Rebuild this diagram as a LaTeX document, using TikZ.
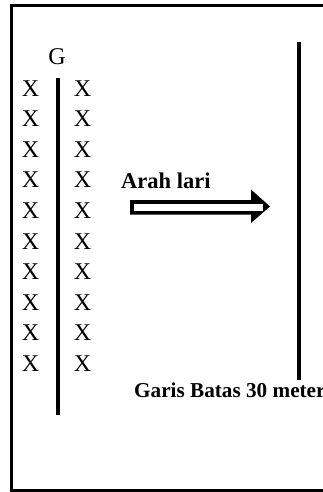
\documentclass[tikz,border=0pt]{standalone}
\usepackage{fontspec}
\setmainfont{Liberation Serif}
\begin{document}
\begin{tikzpicture}[x=1pt,y=-1pt,
  lbl/.style={inner sep=0pt,anchor=base,font=\fontsize{24}{28}\selectfont},
  blbl/.style={inner sep=0pt,anchor=base west,font=\fontsize{22.5}{26}\selectfont\bfseries},
  thickline/.style={line width=4pt},
  framel/.style={line width=3pt}]
\useasboundingbox (0,0) rectangle (323,492);
% frame
\draw[framel] (360,5.7) -- (11,5.7) -- (11,490) -- (360,490);
% G
\node[lbl] (G) at (57,65) {G};
% X columns
\foreach \i in {0,...,9}{
  \node[lbl] (xl\i) at (30.5,96+30.6*\i) {X};
  \node[lbl] (xr\i) at (82.5,96+30.6*\i) {X};
}
% centre line
\coordinate (c1) at (58,78);
\coordinate (c2) at (58,415);
\draw[thickline] (c1) -- (c2);
% right boundary line
\coordinate (r1) at (298.5,42);
\coordinate (r2) at (298.5,380);
\draw[thickline] (r1) -- (r2);
% labels
\node[blbl] (arah) at (121,188.3) {Arah lari};
\node[blbl,font=\fontsize{21.2}{25}\selectfont\bfseries] (garis) at (134,397) {Garis Batas 30 meter};
% arrow: black outline with solid head and white stripe
\fill (130,200) -- (251,200) -- (251,189.5) -- (270,206.5) -- (251,223) -- (251,214.5) -- (130,214.5) -- cycle;
\fill[white] (134,203.5) rectangle (263,210.8);
\end{tikzpicture}
\end{document}
